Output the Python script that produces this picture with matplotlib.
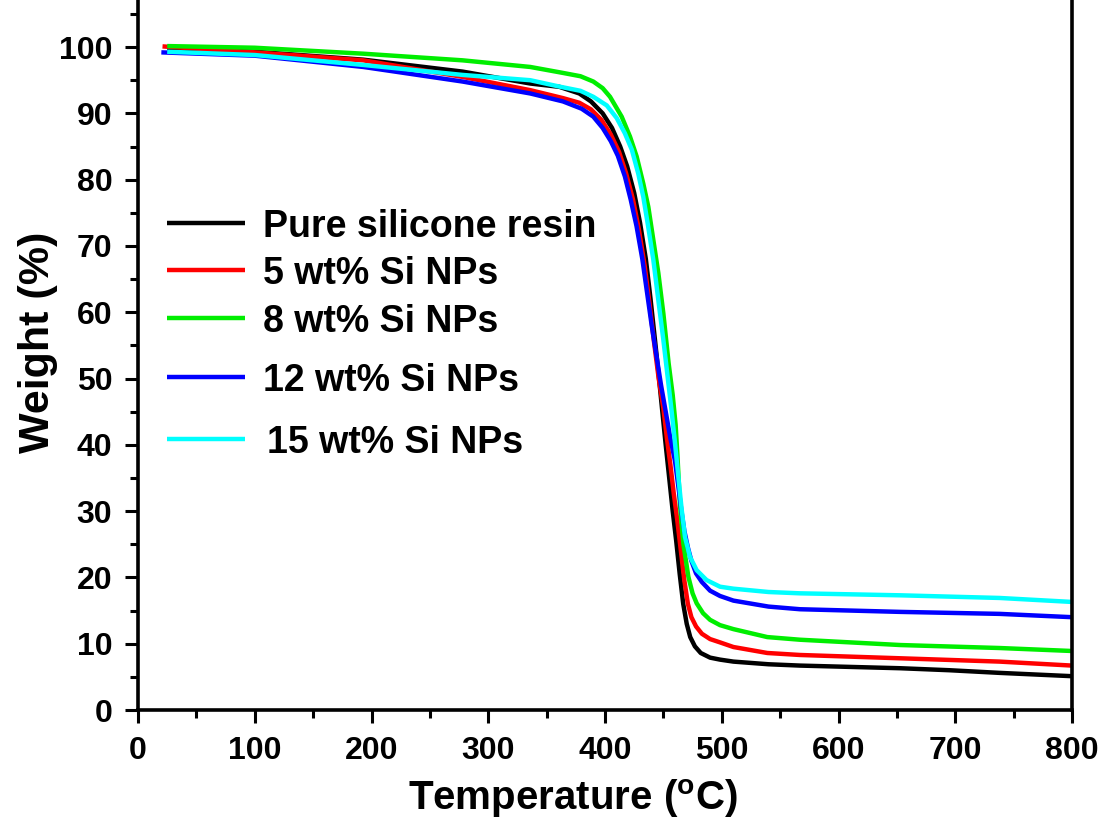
import matplotlib
matplotlib.use("Agg")
import matplotlib.pyplot as plt
from matplotlib.ticker import MultipleLocator

plt.rcParams['font.family'] = ['Liberation Sans', 'DejaVu Sans']
plt.rcParams['font.weight'] = 'bold'
plt.rcParams['mathtext.fontset'] = 'custom'
plt.rcParams['mathtext.rm'] = 'Liberation Sans:bold'
plt.rcParams['mathtext.it'] = 'Liberation Sans:bold'
plt.rcParams['mathtext.bf'] = 'Liberation Sans:bold'

# ---- data ----
labels = ["Pure silicone resin", "5 wt% Si NPs", "8 wt% Si NPs",
          "12 wt% Si NPs", "15 wt% Si NPs"]
colors = ["#000000", "#ff0000", "#00ee00", "#0000ff", "#00ffff"]

pure_T = [25, 100, 193, 278, 336, 361, 378, 388, 398, 406, 413, 419, 425, 430,
          435, 439, 443, 446, 449, 452, 455, 458, 461, 464, 467, 470, 473, 477,
          482, 490, 498.5, 510, 540, 567, 653, 695, 738, 800]
pure_W = [99.8, 99.3, 98.1, 96.3, 94.5, 94.0, 93.0, 91.8, 90.0, 87.8, 85.0, 82.0,
          78.0, 73.5, 68, 62, 55.5, 50.5, 45.2, 40, 35, 30, 25.5, 20.5, 16, 13,
          11.0, 9.6, 8.6, 7.9, 7.6, 7.3, 6.9, 6.7, 6.3, 6.0, 5.6, 5.1]

si5_T = [21, 100, 193, 278, 336, 364, 378, 388, 397, 405, 412, 418, 424, 429,
         434, 438, 442, 446, 450, 453, 456, 459, 462, 465, 468, 471, 474, 478,
         483, 490, 498.5, 510, 539, 567, 653, 738, 800]
si5_W = [100.1, 99.2, 98.0, 95.5, 93.5, 92.3, 91.6, 90.6, 89.0, 86.8, 84.2, 81.0,
         77.0, 72.5, 67, 61.5, 55.5, 50, 45.5, 41, 37, 32.5, 28.5, 24, 19.5, 16,
         14, 12.6, 11.5, 10.7, 10.2, 9.5, 8.6, 8.3, 7.8, 7.3, 6.7]

si8_T = [25, 100, 193, 278, 336, 364, 379, 390, 398, 404.3, 414.3, 421.4, 427.1,
         432.8, 437.1, 441.4, 445.7, 450, 454.5, 458, 460.5, 462, 464.2, 467.1,
         471.4, 475, 478.5, 484, 490, 498.5, 510, 539, 567, 653, 738, 800]
si8_W = [100.15, 99.9, 99.0, 98.0, 97.0, 96.1, 95.6, 94.8, 93.8, 92.5, 89.5, 86.5,
         83.5, 79.4, 75.9, 70.9, 65.9, 59.8, 52.3, 47.5, 43, 38.5, 31, 25.1,
         20.1, 17.6, 16.1, 14.6, 13.6, 12.8, 12.2, 11.0, 10.6, 9.8, 9.35, 8.9]

si12_T = [20, 100, 193, 278, 336, 364, 380, 390, 398, 405, 411, 417, 422, 427,
          432, 436, 440, 444, 448, 452, 456, 460, 463, 465.5, 468, 471, 474, 478,
          483, 490, 498.5, 510, 540, 567, 653, 738, 800]
si12_W = [99.2, 98.7, 97.0, 94.8, 93.0, 91.8, 90.7, 89.5, 87.8, 85.8, 83.6, 80.5,
          77, 73, 68, 63, 58, 53.5, 49, 45, 41, 37.5, 33.5, 30, 27, 24.5, 22.5,
          20.6, 19.3, 18.0, 17.2, 16.5, 15.6, 15.2, 14.8, 14.5, 14.0]

si15_T = [25, 100, 193, 278, 336, 362, 379, 390, 401.5, 410, 417, 423, 428.5,
          432.8, 437, 441.4, 445.7, 450, 452.5, 457, 460, 462.8, 465.7, 468.5,
          472.8, 478.5, 487, 498.5, 510, 540, 567, 653, 738, 800]
si15_W = [99.3, 98.8, 97.3, 95.8, 95.0, 94.0, 93.4, 92.5, 91.2, 89.3, 87.0, 84.5,
          80.9, 77.4, 72.9, 67.9, 61.8, 55.8, 52, 45.2, 40.2, 35.2, 30.2, 26.1,
          23.1, 21.1, 19.6, 18.6, 18.3, 17.8, 17.6, 17.3, 16.9, 16.3]

xticks = [0, 100, 200, 300, 400, 500, 600, 700, 800]
yticks = [0, 10, 20, 30, 40, 50, 60, 70, 80, 90, 100]

series = [(pure_T, pure_W), (si5_T, si5_W), (si8_T, si8_W),
          (si12_T, si12_W), (si15_T, si15_W)]

# ---- layout ----
fig = plt.figure(figsize=(11.10, 8.23), dpi=100)
ax = fig.add_axes([138/1110, 113/823, 934/1110, 710/823])

for (T, W), c in zip(series, colors):
    ax.plot(T, W, color=c, lw=3.2, solid_capstyle='butt', solid_joinstyle='round')

ax.set_xlim(0, 800)
ax.set_ylim(0, 107.1)
ax.set_xticks(xticks)
ax.set_yticks(yticks)
ax.xaxis.set_minor_locator(MultipleLocator(50))
ax.yaxis.set_minor_locator(MultipleLocator(5))
ax.tick_params(which='major', direction='out', length=9.5, width=2.2,
               labelsize=23, pad=9)
ax.tick_params(which='minor', direction='out', length=5.5, width=2.2)
ax.tick_params(axis='x', which='both', top=False)
ax.tick_params(axis='y', which='both', right=False)
for lbl in ax.get_xticklabels() + ax.get_yticklabels():
    lbl.set_fontweight('bold')

ax.spines['top'].set_visible(False)
for s in ['left', 'bottom', 'right']:
    ax.spines[s].set_linewidth(2.6)

ax.set_xlabel(r'Temperature ($^\mathrm{o}$C)', fontsize=29, fontweight='bold')
ax.xaxis.set_label_coords(0.466, -0.095)
ax.set_ylabel('Weight (%)', fontsize=31, fontweight='bold')
ax.yaxis.set_label_coords(-0.086, 0.518)

# manual legend (uneven spacing as in the reference)
leg_y = [0.6863, 0.6197, 0.5517, 0.4694, 0.3813]
leg_tx = [0.1338, 0.1338, 0.1338, 0.1338, 0.1378]
for lab, c, yy, tx in zip(labels, colors, leg_y, leg_tx):
    ax.plot([0.0307, 0.1146], [yy, yy], color=c, lw=3.2,
            transform=ax.transAxes, solid_capstyle='butt')
    ax.text(tx, yy, lab, transform=ax.transAxes, fontsize=27,
            fontweight='bold', va='center_baseline', ha='left')

fig.savefig('out.png', dpi=100)
